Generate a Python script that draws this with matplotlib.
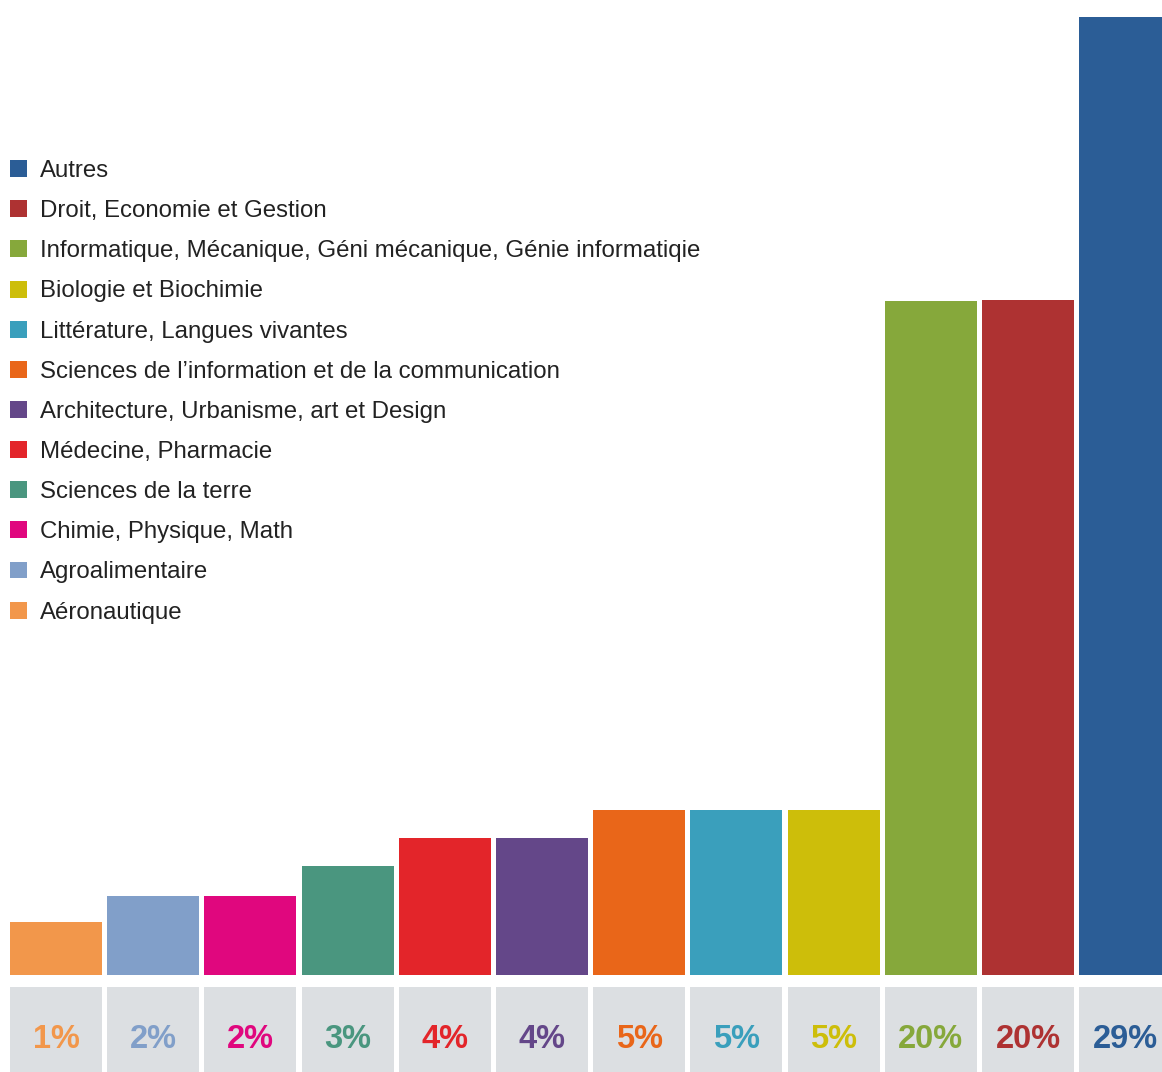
import matplotlib.pyplot as plt
from matplotlib.patches import Patch

plt.rcParams['font.family'] = ['Liberation Sans', 'DejaVu Sans']

# left to right
categories = [
    "Aéronautique",
    "Agroalimentaire",
    "Chimie, Physique, Math",
    "Sciences de la terre",
    "Médecine, Pharmacie",
    "Architecture, Urbanisme, art et Design",
    "Sciences de l’information et de la communication",
    "Littérature, Langues vivantes",
    "Biologie et Biochimie",
    "Informatique, Mécanique, Géni mécanique, Génie informatiqie",
    "Droit, Economie et Gestion",
    "Autres",
]
values = [1.6, 2.4, 2.4, 3.3, 4.15, 4.15, 5.0, 5.0, 5.0, 20.4, 20.45, 29.0]
labels = ["1%", "2%", "2%", "3%", "4%", "4%", "5%", "5%", "5%", "20%", "20%", "29%"]
colors = ["#f2974b", "#819fc9", "#e0077e", "#4a967f", "#e3252a", "#644789",
          "#e96619", "#3a9fbc", "#cdbe0a", "#86a83b", "#ae3232", "#2b5d96"]

W, H = 1162, 1072
fig = plt.figure(figsize=(W / 100, H / 100), dpi=100)

pitch = 97.2
x0 = 56
xlim = (-x0 / pitch, (W - x0) / pitch)
xs = list(range(len(values)))

# bars
ax = fig.add_axes([0, 97 / H, 1, 1 - 97 / H])
ax.bar(xs, values, width=0.947, color=colors)
ax.set_xlim(*xlim)
ax.set_ylim(0, (H - 97) / 33.03)
ax.axis("off")

# grey label boxes
ax2 = fig.add_axes([0, 0, 1, 85 / H])
ax2.bar(xs, [1] * len(xs), width=0.947, color="#dcdfe2", bottom=0)
ax2.set_xlim(*xlim)
ax2.set_ylim(0, 1)
ax2.axis("off")
for x, lab, c in zip(xs, labels, colors):
    ax2.text(x, 0.38, lab, ha="center", va="center", fontsize=23.5,
             fontweight="bold", color=c)

# legend (reverse order)
handles = [Patch(facecolor=c, edgecolor="none") for c in colors[::-1]]
leg = fig.legend(handles, categories[::-1], loc="upper left",
                 bbox_to_anchor=(10 / W, 1 - 160 / H), frameon=False,
                 fontsize=17.3, handlelength=0.71, handleheight=0.71,
                 handletextpad=0.54, labelspacing=0.755, borderpad=0,
                 borderaxespad=0)
for t in leg.get_texts():
    t.set_color("#222222")

fig.savefig("out.png", dpi=100)
